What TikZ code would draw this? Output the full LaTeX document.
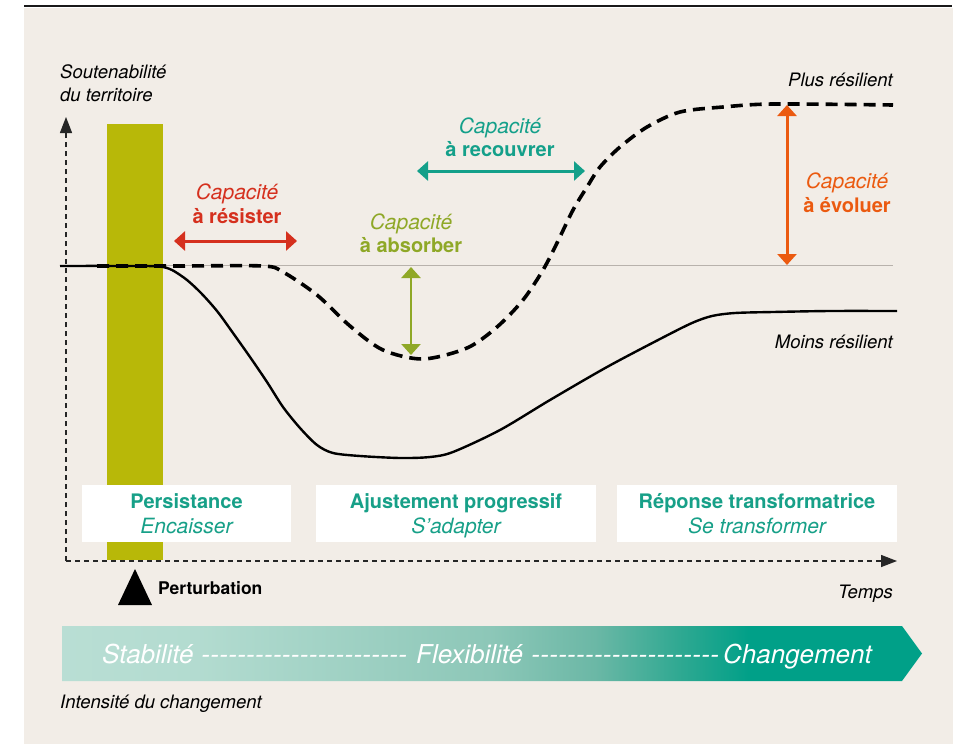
\documentclass[tikz,border=0pt]{standalone}
\usepackage{fontspec}
\setmainfont{TeX Gyre Heros}
\usetikzlibrary{arrows.meta}
\definecolor{bgbeige}{HTML}{F2EDE7}
\definecolor{olivebar}{HTML}{B8B808}
\definecolor{capred}{HTML}{D5301E}
\definecolor{capgreen}{HTML}{8FA827}
\definecolor{capteal}{HTML}{14A08A}
\definecolor{caporange}{HTML}{EB5A10}
\definecolor{refgray}{HTML}{B8B2AC}
\definecolor{boxteal}{HTML}{17A088}
\pgfdeclarehorizontalshading{bandshade}{100bp}{rgb(0bp)=(0.725,0.871,0.831); rgb(25bp)=(0.725,0.871,0.831); rgb(33bp)=(0.70,0.86,0.815); rgb(50bp)=(0.55,0.78,0.72); rgb(56bp)=(0.42,0.72,0.65); rgb(61bp)=(0.18,0.66,0.57); rgb(65bp)=(0,0.627,0.533); rgb(100bp)=(0,0.627,0.533)}
\begin{document}
\begin{tikzpicture}[x=1pt,y=-1pt,
  lbl/.style={inner sep=0pt, font=\fontsize{18.5}{22}\selectfont\itshape},
  capit/.style={inner sep=0pt, anchor=base, font=\fontsize{21}{24}\selectfont\itshape},
  capbf/.style={inner sep=0pt, anchor=base, font=\fontsize{20}{24}\selectfont\bfseries},
  caparrow/.style={line width=3pt, {Triangle[width=19pt,length=11pt]}-{Triangle[width=19pt,length=11pt]}},
  axisline/.style={line width=1.4pt, dash pattern=on 5pt off 4pt, -{Triangle[width=12pt,length=16pt]}, draw=black!85},
  phasebox/.style={fill=white, draw=none, inner sep=0pt},
  boxbf/.style={inner sep=0pt, anchor=base, text=boxteal, font=\fontsize{20}{24}\selectfont\bfseries},
  boxit/.style={inner sep=0pt, anchor=base, text=boxteal, font=\fontsize{21}{24}\selectfont\itshape},
  bandtxt/.style={inner sep=0pt, anchor=base west, text=white, font=\fontsize{26}{30}\selectfont\itshape}]
\useasboundingbox (0,0) rectangle (953,744);
\fill[white] (0,0) rectangle (953,744);
\fill[bgbeige] (24,7.5) rectangle (953,744);
\draw[line width=2pt, black!90] (24,6) -- (952,6);
% perturbation bar
\fill[olivebar] (107,124) rectangle (163,560);
% reference level
\draw[refgray, line width=1pt] (62,265) -- (893,265);
% curves
\draw[line width=2.4pt, line join=round] plot[smooth, tension=0.5] coordinates {(60,266) (120,266) (163,267) (183,277) (200,292) (217,311) (233,333) (250,357) (267,382) (283,407) (300,428) (317,445) (333,453) (360,456) (400,458) (430,457) (453,452) (500,430) (550,400) (607,367) (660,339) (692,323) (712,316) (735,313) (773,312) (830,311) (897,311)};
\draw[line width=3.6pt, dash pattern=on 12pt off 7pt] plot[smooth, tension=0.5] coordinates {(97,266) (180,266) (263,266) (283,272) (317,295) (350,326) (383,350) (423,359) (467,348) (497,327) (523,300) (543,270) (557,243) (573,210) (587,187) (600,167) (620,147) (647,127) (680,112) (723,107) (773,104) (893,105)};
% axes
\coordinate (origin) at (66,561);
\coordinate (ytop) at (66,117);
\coordinate (xend) at (897,561);
\draw[axisline] (origin) -- (ytop);
\draw[axisline] (origin) -- (xend);
% capacity arrows
\coordinate (rA) at (174,241); \coordinate (rB) at (297,241);
\draw[caparrow, capred] (rA) -- (rB);
\coordinate (gA) at (411,267); \coordinate (gB) at (411,355);
\draw[caparrow, capgreen, line width=2.6pt] (gA) -- (gB);
\coordinate (tA) at (417,171); \coordinate (tB) at (585,171);
\draw[caparrow, capteal] (tA) -- (tB);
\coordinate (oA) at (787,105); \coordinate (oB) at (787,265);
\draw[caparrow, caporange] (oA) -- (oB);
% capacity labels
\node[capit, text=capred] (r1) at (237,199) {Capacité};
\node[capbf, text=capred] (r2) at (237,223) {à résister};
\node[capit, text=capgreen] (g1) at (411,229) {Capacité};
\node[capbf, text=capgreen] (g2) at (411,252) {à absorber};
\node[capit, text=capteal] (t1) at (500,133) {Capacité};
\node[capbf, text=capteal] (t2) at (500,156) {à recouvrer};
\node[capit, text=caporange] (o1) at (847,188) {Capacité};
\node[capbf, text=caporange] (o2) at (847,212) {à évoluer};
% axis and curve labels
\node[lbl, anchor=base west] (ya1) at (60,78) {Soutenabilité};
\node[lbl, anchor=base west] (ya2) at (60,101) {du territoire};
\node[lbl, anchor=base east] (plus) at (893,86) {Plus résilient};
\node[lbl, anchor=base east] (moins) at (893,348) {Moins résilient};
\node[lbl, anchor=base east] (temps) at (893,598) {Temps};
% phase boxes
\node[phasebox, minimum width=209pt, minimum height=57pt] (box1) at (186.5,513.5) {};
\node[phasebox, minimum width=280pt, minimum height=57pt] (box2) at (456,513.5) {};
\node[phasebox, minimum width=280pt, minimum height=57pt] (box3) at (757,513.5) {};
\node[boxbf] (p1) at (186.5,508) {Persistance};
\node[boxit] (p2) at (186.5,533) {Encaisser};
\node[boxbf] (a1) at (456,508) {Ajustement progressif};
\node[boxit] (a2) at (456,533) {S’adapter};
\node[boxbf] (rt1) at (757,508) {Réponse transformatrice};
\node[boxit] (rt2) at (757,533) {Se transformer};
% perturbation
\fill[black] (118,605) -- (135,569) -- (152,605) -- cycle;
\node[inner sep=0pt, anchor=base west, font=\fontsize{17.5}{20}\selectfont\bfseries] (pert) at (158,594) {Perturbation};
% change band
\shade[shading=bandshade] (62,626) -- (902,626) -- (922,653.5) -- (902,681) -- (62,681) -- cycle;
\node[bandtxt] (stab) at (102,663) {Stabilité};
\node[bandtxt] (dash1) at (201,663) {\hbox to 206pt{\xleaders\hbox{-}\hfill}};
\node[bandtxt] (flex) at (416,663) {Flexibilité};
\node[bandtxt] (dash2) at (531,663) {\hbox to 188pt{\xleaders\hbox{-}\hfill}};
\node[bandtxt, anchor=base east] (chg) at (872,663) {Changement};
\node[lbl, anchor=base west] (intens) at (60,708) {Intensité du changement};
\end{tikzpicture}
\end{document}
